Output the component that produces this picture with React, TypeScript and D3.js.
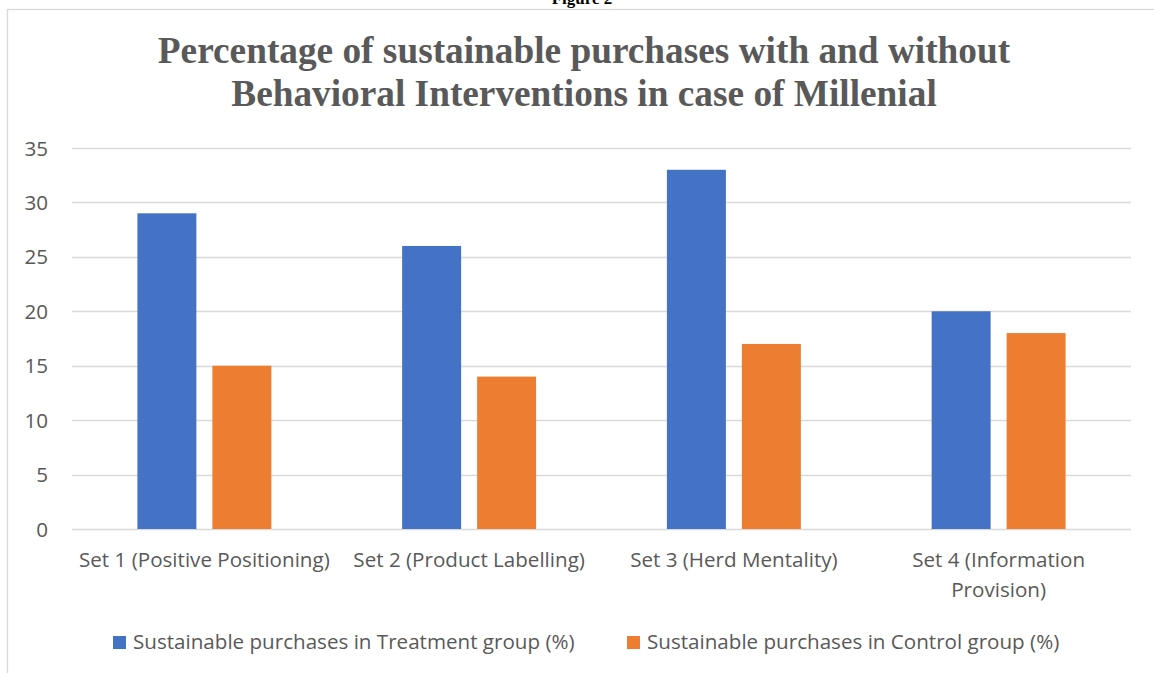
import React from "react";
import * as d3 from "d3";

const categories = [
  "Set 1 (Positive Positioning)",
  "Set 2 (Product Labelling)",
  "Set 3 (Herd Mentality)",
  "Set 4 (Information Provision)",
];
const categoryLines = [
  ["Set 1 (Positive Positioning)"],
  ["Set 2 (Product Labelling)"],
  ["Set 3 (Herd Mentality)"],
  ["Set 4 (Information", "Provision)"],
];
const seriesNames = [
  "Sustainable purchases in Treatment group (%)",
  "Sustainable purchases in Control group (%)",
];
const treatmentValues = [29, 26, 33, 20];
const controlValues = [15, 14, 17, 18];
const yTicks = [0, 5, 10, 15, 20, 25, 30, 35];
const colors = ["#4472C4", "#ED7D31"];
const titleLines = [
  "Percentage of sustainable purchases with and without",
  "Behavioral Interventions in case of Millenial",
];

const W = 1154;
const H = 673;
const SANS = "'Open Sans', 'Noto Sans', sans-serif";
const SERIF = "'Liberation Serif', 'Times New Roman', serif";
const TEXT = "#595959";
const FS = 20.6;

export default function App() {
  const left = 72;
  const right = 1131;
  const top = 148;
  const bottom = 529;

  const y = d3.scaleLinear().domain([0, 35]).range([bottom, top]);
  const x0 = d3
    .scaleBand<string>()
    .domain(categories)
    .range([left, right])
    .paddingInner(0.494)
    .paddingOuter(0.247);
  const x1 = d3
    .scaleBand<string>()
    .domain(seriesNames)
    .range([0, x0.bandwidth()])
    .paddingInner(0.2133);

  const seriesValues = [treatmentValues, controlValues];

  return (
    <svg
      width={W}
      height={H}
      style={{ position: "absolute", left: 0, top: 0, background: "#fff" }}
    >
      <rect x={0} y={0} width={W} height={H} fill="#fff" />
      <text
        x={582}
        y={4}
        textAnchor="middle"
        fontFamily={SERIF}
        fontWeight="bold"
        fontSize={17}
        fill="#000"
      >
        Figure 2
      </text>
      <rect
        x={7.5}
        y={9.5}
        width={1300}
        height={800}
        fill="none"
        stroke="#d9d9d9"
        strokeWidth={1.3}
      />
      {titleLines.map((t, i) => (
        <text
          key={i}
          x={584}
          y={63 + i * 43}
          textAnchor="middle"
          fontFamily={SERIF}
          fontWeight="bold"
          fontSize={37.3}
          fill={TEXT}
        >
          {t}
        </text>
      ))}
      {yTicks.map((t) => (
        <g key={t}>
          <line
            x1={left}
            x2={right}
            y1={Math.round(y(t)) + 0.5}
            y2={Math.round(y(t)) + 0.5}
            stroke="#d9d9d9"
            strokeWidth={1.3}
          />
          <text
            x={48}
            y={y(t) + 7.5}
            textAnchor="end"
            fontFamily={SANS}
            fontSize={FS}
            fill={TEXT}
          >
            {t}
          </text>
        </g>
      ))}
      {categories.map((c, ci) => (
        <g key={c}>
          {seriesNames.map((s, si) => {
            const v = seriesValues[si][ci];
            const bx = (x0(c) || 0) + (x1(s) || 0);
            return (
              <rect
                key={s}
                x={bx}
                y={y(v)}
                width={x1.bandwidth()}
                height={y(0) - y(v)}
                fill={colors[si]}
              />
            );
          })}
          {categoryLines[ci].map((ln, li) => (
            <text
              key={li}
              x={(x0(c) || 0) + x0.bandwidth() / 2}
              y={567 + li * 30}
              textAnchor="middle"
              fontFamily={SANS}
              fontSize={FS}
              fill={TEXT}
            >
              {ln}
            </text>
          ))}
        </g>
      ))}
      {seriesNames.map((s, si) => {
        const lx = si === 0 ? 113 : 627;
        return (
          <g key={s}>
            <rect x={lx} y={636} width={13} height={13} fill={colors[si]} />
            <text
              x={lx + 20}
              y={649}
              fontFamily={SANS}
              fontSize={FS}
              fill={TEXT}
            >
              {s}
            </text>
          </g>
        );
      })}
    </svg>
  );
}
